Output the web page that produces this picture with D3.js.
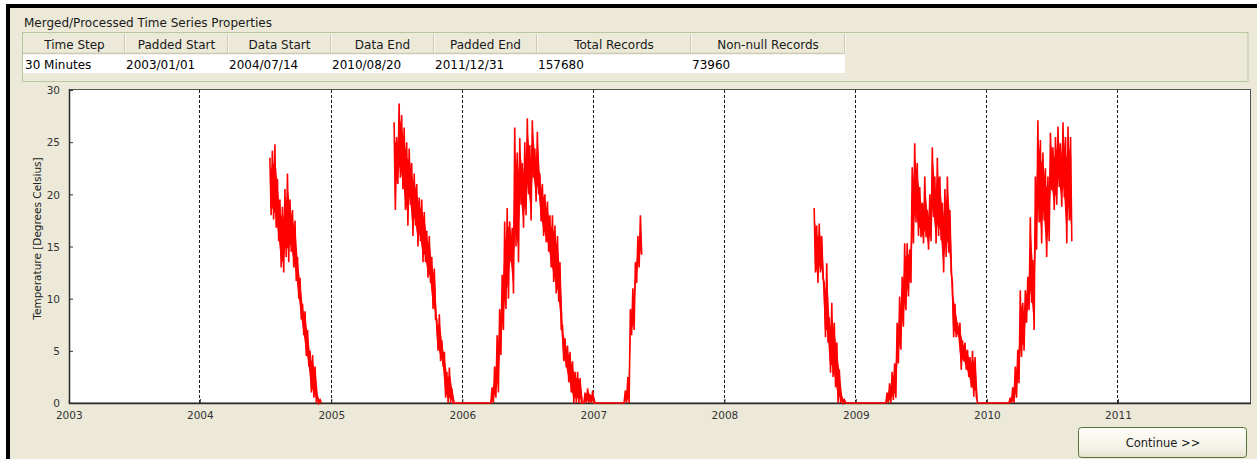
<!DOCTYPE html>
<html>
<head>
<meta charset="utf-8">
<script src="https://cdn.jsdelivr.net/npm/d3@7"></script>
<style>
  html, body { margin: 0; padding: 0; background: #ffffff; }
  svg { display: block; }
  text { font-family: "DejaVu Sans", Tahoma, sans-serif; }
</style>
</head>
<body>
<svg id="chart" width="1257" height="459"></svg>
<script>
// ---------------- DATA ----------------
const panelTitle = "Merged/Processed Time Series Properties";
const tableHeaders = ["Time Step", "Padded Start", "Data Start", "Data End", "Padded End", "Total Records", "Non-null Records"];
const tableValues  = ["30 Minutes", "2003/01/01", "2004/07/14", "2010/08/20", "2011/12/31", "157680", "73960"];
const yearTicks = [2003, 2004, 2005, 2006, 2007, 2008, 2009, 2010, 2011];
const gridYears = [2004, 2005, 2006, 2007, 2008, 2009, 2010, 2011];
const tempTicks = [0, 5, 10, 15, 20, 25, 30];
const yLabel = "Temperature [Degrees Celsius]";
const buttonLabel = "Continue >>";

// weekly high / low envelope of the half-hourly temperature (deg C)
const seg2004Start = "2004-07-14";
const seg2004Hi = [23.5,24.2,24.8,21.5,19.5,18.8,20.5,22,19.5,18.5,17.5,14,12,9.5,8.8,7,5,4.6,3.5,0.6,0.3];
const seg2004Lo = [18,17.6,16.8,15.5,13,12.5,14,13.5,14.5,13,11.7,10,8,6.5,4.5,3.5,1,0.5,0,0,0];

const seg2005Start = "2005-06-25";
const seg2005Hi = [26.9,25.5,28.7,27.6,26.4,25,24.4,23,22,21,19.7,19.5,18.3,16.5,16,14,12.9,8,8.5,6,
  4.9,3,3.4,1.4,0,0,0,0,0,0,0,0,0,0,0,0,0,0,0,
  1.5,3.5,6.5,9,12.3,17.4,18.7,17.4,16.8,26.4,24,25.4,23,25,27.3,24.7,27.1,24.4,26,22,21,20,19.3,18,18,17,16,
  13.5,7.5,6.2,5.5,4.9,4,3,3,2.4,0,1,1.4,0.8,1.2,
  0,0,0,0,0,0,0,0,0,0,0,0,
  1.2,2.5,9,11,13.5,16,18];
const seg2005Lo = [18.5,21,21.6,20.5,18.5,17,19,16,17,15,15.5,13.5,13.5,12,11.5,9,8,5,4,3.5,
  0.5,0,0,0,0,0,0,0,0,0,0,0,0,0,0,0,0,0,0,
  0,0.5,1,4.6,7,9,10,13.5,10.5,15,13.5,19,16.8,18,20,17.5,21.6,19.3,20,17.4,16,15.4,14.5,13,11.6,10.5,9.7,
  7,4,3.4,2,1,0,0,0,0,0,0,0,0,0,
  0,0,0,0,0,0,0,0,0,0,0,0,
  0,0,6.5,7,11.5,13,14.2];

const seg2008Start = "2008-09-07";
const seg2008Hi = [18.7,17,17.2,16,11.5,13.4,8.2,9.6,7.7,5.8,3.2,0.6,0.3,
  0,0,0,0,0,0,0,0,0,0,0,0,0,0,0,0,
  1,1.9,3,3.8,7.7,10.2,12.1,15.3,15.3,14.7,22.6,24.9,23,20.7,19.2,21.7,18.5,20,24.5,21.7,23.5,21.7,19.2,20.5,21.7,18.5,
  11.5,9.5,7.7,7.7,6,5.8,5.1,4.4,5,4.4,
  0,0,0,0,0,0,0,0,0,0,0,0,0,
  0.5,1.5,3.5,5.1,10.8,9.6,10.8,12.1,17.8,13.7,21.7,27.1,25.2,24,22.5,21.7,25.9,24.5,25.5,26.5,24.9,26.9,25.5,26.5,25.5];
const seg2008Lo = [12.5,11.5,12.5,12,6.3,5.8,2.9,2.5,1.5,0,0,0,0,
  0,0,0,0,0,0,0,0,0,0,0,0,0,0,0,0,
  0,0,0.3,0.5,3.8,5.1,7.3,8.9,10.2,11.5,15.3,17.3,16,15.9,15.3,15.9,14.7,15.5,17.8,15.3,16,15.6,12.5,14,14.4,12.5,
  6.3,6.3,6.3,3.2,4,3.2,2.5,1.5,0.6,0.6,
  0,0,0,0,0,0,0,0,0,0,0,0,0,
  0,0,0.5,1.9,4.4,5,7.7,8.9,9.6,7,14.7,17.3,15.3,17.5,14,15.5,20.4,18.5,19,20.7,18.8,19.7,15.3,17.5,15.5];

// ---------------- LAYOUT ----------------
const W = 1257, H = 459;
const plot = { left: 69, right: 1250, top: 90, bottom: 403 };
const colEdges = [24, 125, 228, 331, 434, 537, 691, 845];
const svg = d3.select("#chart");

// background / window frame
svg.append("rect").attr("x", 0).attr("y", 0).attr("width", W).attr("height", H).attr("fill", "#ffffff");
svg.append("rect").attr("x", 6).attr("y", 4).attr("width", W - 6).attr("height", H - 4).attr("fill", "#000000");
svg.append("rect").attr("x", 10).attr("y", 8).attr("width", W - 10).attr("height", H - 8).attr("fill", "#ece9d8");

// panel title
svg.append("text").attr("x", 24).attr("y", 27).attr("font-size", 12).attr("fill", "#1a1a1a").text(panelTitle);

// table group box
svg.append("rect").attr("x", 22.5).attr("y", 32.5).attr("width", 1248 - 22.5).attr("height", 49)
  .attr("fill", "none").attr("stroke", "#b8c79f").attr("stroke-width", 1);
// data row background
svg.append("rect").attr("x", colEdges[0] - 1).attr("y", 54).attr("width", colEdges[7] - colEdges[0] + 1).attr("height", 19).attr("fill", "#ffffff");
// header bottom line
svg.append("line").attr("x1", colEdges[0] - 1).attr("x2", colEdges[7]).attr("y1", 53.5).attr("y2", 53.5)
  .attr("stroke", "#cdc9b4").attr("stroke-width", 1.5);
// header separators
colEdges.slice(1).forEach(x => {
  svg.append("line").attr("x1", x - 0.5).attr("x2", x - 0.5).attr("y1", 34).attr("y2", 53)
    .attr("stroke", "#cfcbb6").attr("stroke-width", 1);
  svg.append("line").attr("x1", x + 0.5).attr("x2", x + 0.5).attr("y1", 34).attr("y2", 53)
    .attr("stroke", "#f7f6ef").attr("stroke-width", 1);
});
tableHeaders.forEach((h, i) => {
  svg.append("text").attr("x", (colEdges[i] + colEdges[i + 1]) / 2).attr("y", 48.5)
    .attr("text-anchor", "middle").attr("font-size", 12).attr("fill", "#1a1a1a").text(h);
});
tableValues.forEach((v, i) => {
  svg.append("text").attr("x", colEdges[i] + 1).attr("y", 68.5)
    .attr("font-size", 12).attr("fill", "#000000").text(v);
});

// ---------------- PLOT ----------------
const x = d3.scaleUtc()
  .domain([new Date(Date.UTC(2003, 0, 1)), new Date(Date.UTC(2012, 0, 1))])
  .range([plot.left - 0.2, plot.right - 1]);
const y = d3.scaleLinear().domain([0, 30]).range([plot.bottom, plot.top]);
const yearDate = yr => new Date(Date.UTC(yr, 0, 1));

svg.append("rect").attr("x", plot.left).attr("y", plot.top)
  .attr("width", plot.right - plot.left).attr("height", plot.bottom - plot.top).attr("fill", "#ffffff");

// dashed year grid
svg.append("g").selectAll("line").data(gridYears).join("line")
  .attr("x1", d => Math.floor(x(yearDate(d))) + 0.5).attr("x2", d => Math.floor(x(yearDate(d))) + 0.5)
  .attr("y1", plot.top).attr("y2", plot.bottom)
  .attr("stroke", "#1a1a1a").attr("stroke-width", 1).attr("stroke-dasharray", "3,2");

// y axis
const yAxis = d3.axisLeft(y).tickValues(tempTicks).tickSize(-4).tickPadding(9).tickFormat(d3.format("d"));
const gy = svg.append("g").attr("transform", `translate(${plot.left},0)`).call(yAxis);
gy.select(".domain").remove();
gy.selectAll(".tick line").attr("stroke", "#333");
gy.selectAll(".tick text").attr("font-size", 10.5).attr("fill", "#333").attr("font-family", "Liberation Sans, Arial, sans-serif").attr("dy", "0.35em");

// x axis
const xAxis = d3.axisBottom(x).tickValues(yearTicks.map(yearDate)).tickSize(-4).tickPadding(9)
  .tickFormat(d3.utcFormat("%Y"));
const gx = svg.append("g").attr("transform", `translate(0,${plot.bottom})`).call(xAxis);
gx.select(".domain").remove();
gx.selectAll(".tick line").attr("stroke", "#333");
gx.selectAll(".tick text").attr("font-size", 10.5).attr("fill", "#333").attr("font-family", "Liberation Sans, Arial, sans-serif");

// y label
svg.append("text").attr("transform", `translate(41,${(plot.top + plot.bottom) / 2 - 8}) rotate(-90)`)
  .attr("text-anchor", "middle").attr("font-size", 10.5).attr("fill", "#222")
  .attr("font-family", "Liberation Sans, Arial, sans-serif").text(yLabel);

// series
const DAY = 86400000;
function weeks(start, hi, lo) {
  const t0 = new Date(start + "T00:00:00Z").getTime();
  return hi.map((h, i) => ({ t: t0 + i * 7 * DAY, hi: h, lo: lo[i] }));
}
function zigzag(rows) {
  const pts = [];
  rows.forEach(r => {
    pts.push([r.t, r.hi]);
    pts.push([r.t + 3.5 * DAY, r.lo]);
  });
  return pts;
}
const segRows = [
  weeks(seg2004Start, seg2004Hi, seg2004Lo),
  weeks(seg2005Start, seg2005Hi, seg2005Lo),
  weeks(seg2008Start, seg2008Hi, seg2008Lo)
];
const line = d3.line().x(d => x(new Date(d[0]))).y(d => y(d[1]));
const band = d3.area().x(d => x(new Date(d.t + 1.75 * DAY)))
  .y0(d => y(d.lo + (d.hi - d.lo) * 0.15)).y1(d => y(d.hi - (d.hi - d.lo) * 0.2));

// plot frame
svg.append("rect").attr("x", plot.left + 0.5).attr("y", plot.top - 0.5)
  .attr("width", plot.right - plot.left).attr("height", plot.bottom - plot.top + 0.5)
  .attr("fill", "none").attr("stroke", "#555").attr("stroke-width", 1);
svg.append("line").attr("x1", plot.left).attr("x2", plot.right + 1).attr("y1", plot.bottom + 0.5).attr("y2", plot.bottom + 0.5)
  .attr("stroke", "#2a2a2a").attr("stroke-width", 1.5);
svg.append("line").attr("x1", plot.left + 0.5).attr("x2", plot.left + 0.5).attr("y1", plot.top - 1).attr("y2", plot.bottom + 1)
  .attr("stroke", "#2a2a2a").attr("stroke-width", 1.5);

const gs = svg.append("g");
gs.selectAll("path.band").data(segRows).join("path").attr("class", "band")
  .attr("d", band).attr("fill", "#ff0000").attr("stroke", "none");
gs.selectAll("path.zz").data(segRows.map(zigzag)).join("path").attr("class", "zz")
  .attr("d", line).attr("fill", "none").attr("stroke", "#ff0000").attr("stroke-width", 1.6)
  .attr("stroke-linejoin", "miter");

// Continue button
const grad = svg.append("defs").append("linearGradient").attr("id", "btn").attr("x1", 0).attr("x2", 0).attr("y1", 0).attr("y2", 1);
grad.append("stop").attr("offset", "0%").attr("stop-color", "#fefef9");
grad.append("stop").attr("offset", "70%").attr("stop-color", "#f4f2e6");
grad.append("stop").attr("offset", "100%").attr("stop-color", "#e4e1cf");
svg.append("rect").attr("x", 1078.5).attr("y", 427.5).attr("width", 168).attr("height", 30).attr("rx", 3)
  .attr("fill", "url(#btn)").attr("stroke", "#56733a").attr("stroke-width", 1);
svg.append("text").attr("x", 1163).attr("y", 446.5).attr("text-anchor", "middle")
  .attr("font-size", 11.5).attr("fill", "#1a1a1a").text(buttonLabel);
</script>
</body>
</html>
